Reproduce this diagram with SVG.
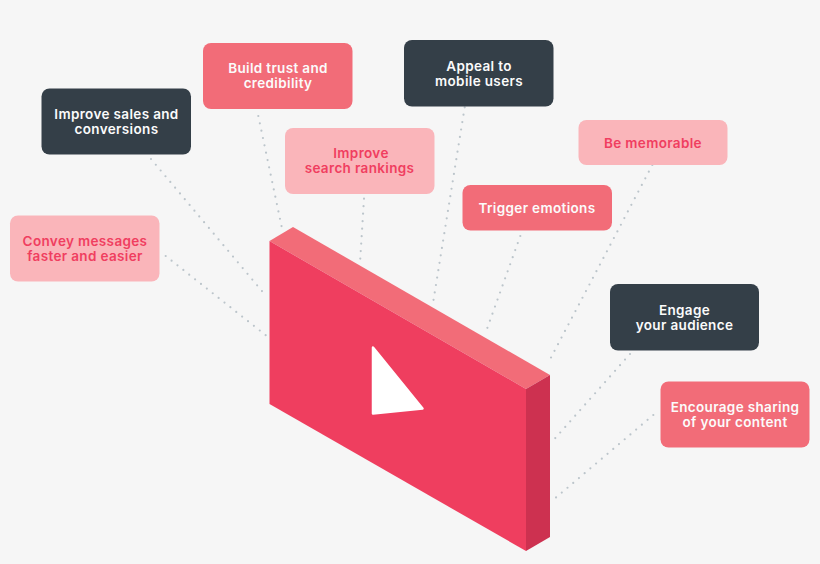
<svg xmlns="http://www.w3.org/2000/svg" width="820" height="564" viewBox="0 0 820 564">
<style>
.bg{fill:#f6f6f6}
.dark rect{fill:#343f48}
.mid rect{fill:#f26c78}
.light rect{fill:#fab5ba}
text{font-family:"Inter","Liberation Sans",sans-serif;font-size:13.5px;font-weight:600;text-anchor:middle;letter-spacing:.35px}
.dark text,.mid text{fill:#fbfbfb}
.light text{fill:#f03e60}
#connectors line{stroke:#bcc5cb;stroke-width:2.2;stroke-linecap:round;stroke-dasharray:0 7.5;fill:none}
</style>
<rect class="bg" width="820" height="564"/>
<g id="connectors">
<line x1="165.7" y1="256" x2="266.7" y2="336"/>
<line x1="151" y1="159" x2="266.7" y2="296.7"/>
<line x1="258.3" y1="116" x2="282.7" y2="231.7"/>
<line x1="364" y1="198.7" x2="360" y2="263"/>
<line x1="464.7" y1="107.3" x2="432.7" y2="305"/>
<line x1="520.3" y1="236" x2="486" y2="331.7"/>
<line x1="652.3" y1="165" x2="548.3" y2="362.7"/>
<line x1="630" y1="354" x2="552.7" y2="441"/>
<line x1="653.3" y1="415" x2="550.7" y2="502"/>
</g>
<g id="video-block">
<polygon points="269.5,241 293,227 550,375 526,389" fill="#f26c78"/>
<polygon points="269.5,241 526,389 526,551 269.5,404" fill="#ef3e5f"/>
<polygon points="526,389 550,375 550,537 526,551" fill="#cd3150"/>
<polygon points="373,347.5 422.5,408.5 373,413.5" fill="#fff" stroke="#fff" stroke-width="2.5" stroke-linejoin="round"/>
</g>
<g id="convey" class="light"><rect x="10" y="215.5" width="149.5" height="66" rx="8"/><text x="85" y="245.5">Convey messages</text><text x="85" y="260.5">faster and easier</text></g>
<g id="sales" class="dark"><rect x="41.5" y="88.5" width="149.5" height="66" rx="8"/><text x="116.5" y="118.5">Improve sales and</text><text x="116.5" y="133.5">conversions</text></g>
<g id="trust" class="mid"><rect x="203" y="43" width="149.5" height="66" rx="8"/><text x="278" y="72.5">Build trust and</text><text x="278" y="87.5">credibility</text></g>
<g id="search" class="light"><rect x="285" y="128" width="149.5" height="66" rx="8"/><text x="361" y="158">Improve</text><text x="359.5" y="173">search rankings</text></g>
<g id="mobile" class="dark"><rect x="404" y="40" width="149.5" height="66.5" rx="8"/><text x="479" y="70.5">Appeal to</text><text x="479" y="85.5">mobile users</text></g>
<g id="memorable" class="light"><rect x="578.5" y="120" width="149" height="45" rx="8"/><text x="653" y="147.5">Be memorable</text></g>
<g id="emotions" class="mid"><rect x="462.5" y="185" width="149.5" height="45.5" rx="8"/><text x="537" y="213">Trigger emotions</text></g>
<g id="engage" class="dark"><rect x="610" y="284" width="149" height="66.5" rx="8"/><text x="684.5" y="314.5">Engage</text><text x="684.5" y="329.5">your audience</text></g>
<g id="sharing" class="mid"><rect x="660.5" y="381.5" width="149" height="66" rx="8"/><text x="735" y="412">Encourage sharing</text><text x="735" y="427">of your content</text></g>
</svg>
